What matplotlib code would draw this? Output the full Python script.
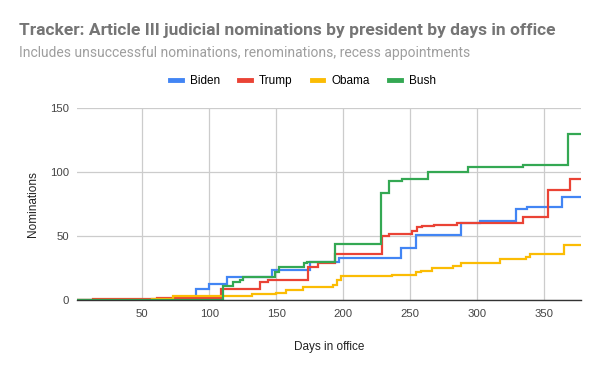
import matplotlib
matplotlib.use("Agg")
import matplotlib.pyplot as plt
from matplotlib.lines import Line2D

# step points: day of change -> cumulative nominations
biden_days = [1, 90, 100, 113, 147, 175, 197, 243, 254, 288, 302, 329, 337, 363, 377]
biden_vals = [0, 9, 13, 18, 24, 30, 33, 41, 51, 60, 62, 71, 73, 81, 81]

trump_days = [1, 13, 61, 109, 138, 144, 174, 181, 194, 229, 234, 251, 255, 259, 268, 285, 334, 353, 369, 377]
trump_vals = [0, 1, 2, 9, 14, 16, 26, 29, 36, 50, 52, 54, 57, 58, 59, 60, 65, 86, 95, 95]

obama_days = [1, 57, 73, 132, 150, 157, 170, 192, 195, 198, 236, 254, 258, 266, 282, 288, 317, 336, 339, 365, 377]
obama_vals = [0, 1, 3, 5, 6, 8, 10, 12, 16, 19, 20, 22, 23, 25, 27, 29, 32, 34, 36, 43, 43]

bush_days = [1, 110, 118, 123, 125, 149, 152, 171, 173, 194, 228, 234, 244, 263, 293, 334, 368, 377]
bush_vals = [0, 11, 14, 16, 18, 22, 26, 29, 30, 44, 84, 93, 95, 100, 104, 106, 130, 130]

names = ["Biden", "Trump", "Obama", "Bush"]
colors = ["#4285f4", "#ea4335", "#fbbc04", "#34a853"]
series = [(biden_days, biden_vals), (trump_days, trump_vals),
          (obama_days, obama_vals), (bush_days, bush_vals)]

fig = plt.figure(figsize=(6, 3.71), dpi=100)
ax = fig.add_axes([0.1288, 0.1906, 0.84, 0.5175])

for (d, v), c in zip(series, colors):
    ax.step(d, v, where="post", color=c, lw=1.6, solid_joinstyle="miter")

ax.set_xlim(1.5, 377.6)
ax.set_ylim(0, 150)
ax.set_xticks([50, 100, 150, 200, 250, 300, 350])
ax.set_yticks([0, 50, 100, 150])
ax.grid(True, color="#cccccc", lw=0.9)
ax.set_axisbelow(True)
for s in ["top", "right", "left"]:
    ax.spines[s].set_visible(False)
ax.spines["bottom"].set_color("#333333")
ax.spines["bottom"].set_linewidth(1.0)
ax.tick_params(length=0, labelsize=8.2, colors="#444444", pad=6)
for lab in ax.get_xticklabels() + ax.get_yticklabels():
    lab.set_family("Liberation Sans")
ax.set_xlabel("Days in office", family="Liberation Sans", fontsize=8.5, color="#222222", labelpad=16)
ax.set_ylabel("Nominations", family="Liberation Sans", fontsize=8.5, color="#222222", labelpad=8)

fig.text(19 / 600, 1 - 30 / 371, "Tracker: Article III judicial nominations by president by days in office",
         family="Roboto", weight="bold", fontsize=12.5, color="#757575", va="center")
fig.text(19 / 600, 1 - 53 / 371, "Includes unsuccessful nominations, renominations, recess appointments",
         family="Roboto", fontsize=10, color="#9e9e9e", va="center")

handles = [Line2D([], [], color=c, lw=3.5) for c in colors]
fig.legend(handles, names, loc="center", bbox_to_anchor=(0.505, 1 - 81 / 371), ncol=4,
           frameon=False, handlelength=1.0, handletextpad=0.7, columnspacing=1.6,
           prop={"family": "Liberation Sans", "size": 8.5})

fig.savefig("out.png", dpi=100)
